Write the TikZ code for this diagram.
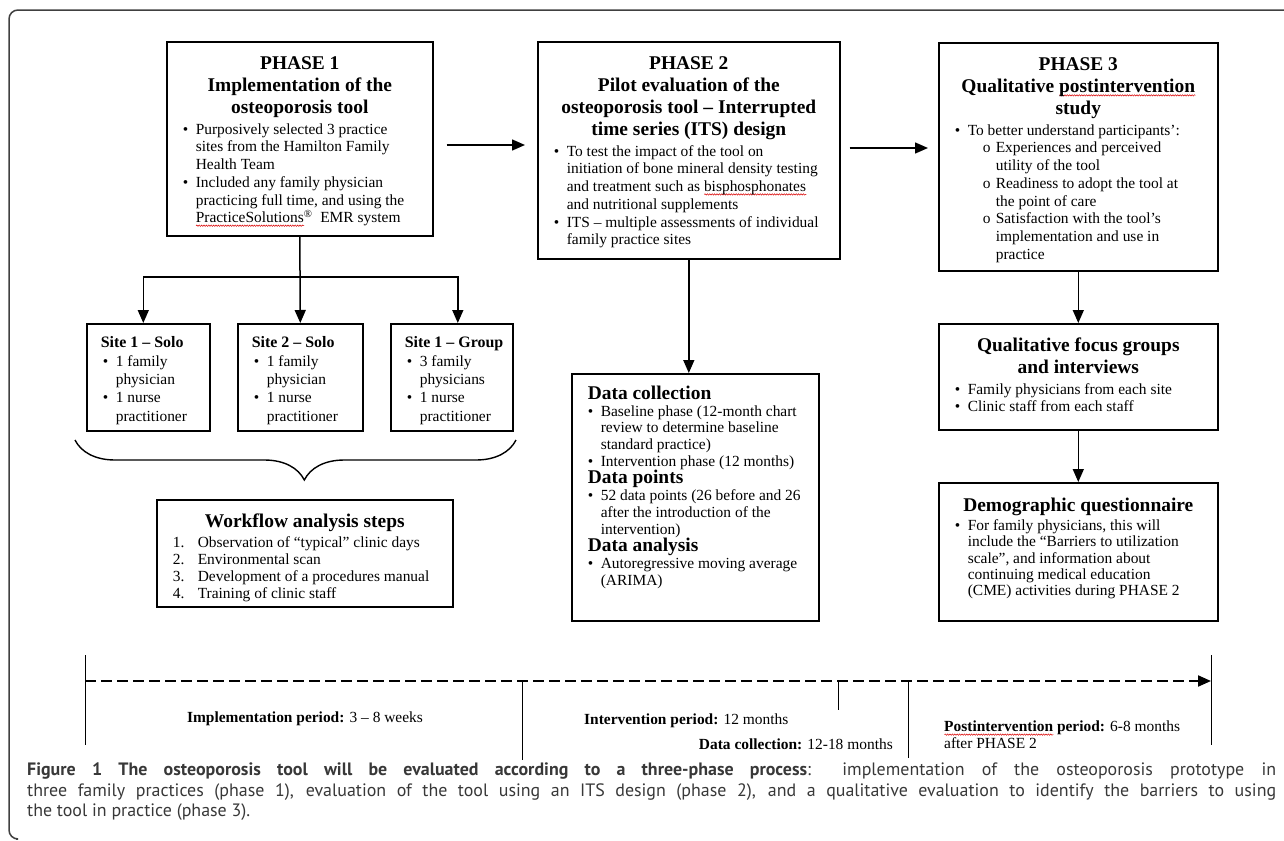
\documentclass[tikz,border=0pt]{standalone}
\usepackage{fontspec}
\setmainfont{Liberation Serif}
\newfontfamily\capfont{PT Sans}
\usetikzlibrary{arrows.meta,decorations.pathreplacing,decorations.pathmorphing}
\definecolor{capgray}{HTML}{383838}
\definecolor{framegray}{HTML}{404040}
\tikzset{>={Triangle[length=13bp,width=11bp]}}
\tikzset{
  panel/.style={draw, line width=1.6bp, anchor=north west, inner xsep=7bp, inner ysep=0pt},
  link/.style={->, line width=1.5bp},
  period/.style={line width=1bp},
  plabel/.style={font=\fontsize{15.5}{17}\selectfont, inner sep=0pt},
}
% box contents
\newcommand{\pbody}[4][13]{\parbox[c][#3bp][t]{#2bp}{\raggedright\fontsize{15.5}{17.8}\selectfont\vspace*{#1bp}#4\par}}
\newcommand{\ptitle}[1]{{\centering\fontsize{19.5}{22}\selectfont\bfseries #1\par}\vspace{3bp}}
\newcommand{\phead}[1]{\par\noindent\hspace*{9bp}{\fontsize{19.5}{20}\selectfont\bfseries #1}\par}
\newcommand{\shead}[1]{\par\noindent\hspace*{7bp}{\fontsize{16}{18}\selectfont\bfseries #1}\par}
\newcommand{\bul}{\par\noindent\hangindent=22bp\hangafter=1\hspace*{9bp}\makebox[13bp][l]{\textbullet}}
\newcommand{\subbul}{\par\noindent\hangindent=50bp\hangafter=1\hspace*{37bp}\makebox[13bp][l]{o}}
\newcommand{\stepno}[1]{\par\noindent\hangindent=34bp\hangafter=1\hspace*{9bp}\makebox[25bp][l]{#1.}}
% spell-check squiggle
\newlength{\spellwd}
\newcommand{\spell}[1]{\settowidth{\spellwd}{#1}\rlap{\tikz[baseline=0pt]\draw[red!85!black, line width=0.5bp, decorate, decoration={snake, amplitude=0.7bp, segment length=2.4bp}] (0pt,-2.8bp) -- (\spellwd,-2.8bp);}#1}

\begin{document}
\begin{tikzpicture}[x=1bp, y=-1bp]
  \useasboundingbox (0,0) rectangle (1284,841);
  % frame
  \draw[framegray, line width=1.5bp, rounded corners=9bp] (1284,10) -- (9,10) -- (9,839) -- (16,839);
  % phases
  \node[panel] (ph1) at (166,41) {\pbody[15]{252}{194}{%
    \ptitle{PHASE 1\\Implementation of the\\osteoporosis tool}
    \bul Purposively selected 3 practice\newline sites from the Hamilton Family\newline Health Team
    \bul Included any family physician\newline practicing full time, and using the\newline \spell{PracticeSolutions}\textsuperscript{®}\ \ EMR system}};
  \node[panel] (ph2) at (537,41) {\pbody[15]{288}{217}{%
    \ptitle{PHASE 2\\Pilot evaluation of the\\osteoporosis tool -- Interrupted\\time series (ITS) design}
    \bul To test the impact of the tool on\newline initiation of bone mineral density testing\newline and treatment such as \spell{bisphosphonates}\newline and nutritional supplements
    \bul ITS -- multiple assessments of individual\newline family practice sites}};
  \node[panel] (ph3) at (938,42) {\pbody[15]{265}{228}{%
    \ptitle{PHASE 3\\Qualitative \spell{postintervention}\\study}
    \bul To better understand participants':
    \subbul Experiences and perceived\newline utility of the tool
    \subbul Readiness to adopt the tool at\newline the point of care
    \subbul Satisfaction with the tool's\newline implementation and use in\newline practice}};
  % sites
  \node[panel] (site1) at (86,323) {\pbody{109}{107}{\baselineskip=18.3bp
    \shead{Site 1 -- Solo}
    \bul 1 family\newline physician
    \bul 1 nurse\newline practitioner}};
  \node[panel] (site2) at (237,323) {\pbody{111}{107}{\baselineskip=18.3bp
    \shead{Site 2 -- Solo}
    \bul 1 family\newline physician
    \bul 1 nurse\newline practitioner}};
  \node[panel] (site3) at (390,323) {\pbody{108}{107}{\baselineskip=18.3bp
    \shead{Site 1 -- Group}
    \bul 3 family\newline physicians
    \bul 1 nurse\newline practitioner}};
  \node[panel] (work) at (156,499) {\pbody[14]{282}{107}{%
    \ptitle{Workflow analysis steps}\baselineskip=17bp
    \stepno{1}Observation of ``typical'' clinic days
    \stepno{2}Environmental scan
    \stepno{3}Development of a procedures manual
    \stepno{4}Training of clinic staff}};
  % phase 2 details
  \node[panel] (datac) at (571,373) {\pbody[12]{233}{247}{\fontsize{15.5}{16.8}\selectfont
    \phead{Data collection}
    \bul Baseline phase (12-month chart\newline review to determine baseline\newline standard practice)
    \bul Intervention phase (12 months)
    \phead{Data points}
    \bul 52 data points (26 before and 26\newline after the introduction of the\newline intervention)
    \phead{Data analysis}
    \bul Autoregressive moving average\newline (ARIMA)}};
  % phase 3 details
  \node[panel] (qual) at (938,323) {\pbody[14]{265}{106}{%
    \ptitle{Qualitative focus groups\\and interviews}
    \bul Family physicians from each site
    \bul Clinic staff from each staff}};
  \node[panel] (demo) at (938,482) {\pbody[15]{265}{138}{%
    \ptitle{Demographic questionnaire}\baselineskip=16.3bp
    \bul For family physicians, this will\newline include the ``Barriers to utilization\newline scale'', and information about\newline continuing medical education\newline (CME) activities during PHASE 2}};
  % connectors
  \coordinate (row12) at (0,145);
  \coordinate (row23) at (0,148);
  \coordinate (fork) at (299,277);
  \draw[link, shorten <=13bp, shorten >=12bp] (ph1.east |- row12) -- (ph2.west |- row12);
  \draw[link, shorten <=9bp, shorten >=10bp] (ph2.east |- row23) -- (ph3.west |- row23);
  \draw[link] (ph1.south) -- (site2.north);
  \draw[link] (fork) -| ([xshift=-5bp]site1.north);
  \draw[link] (fork) -| ([xshift=6bp]site3.north);
  \draw[link] (ph2.south) -- (ph2.south |- datac.north);
  \draw[link] (ph3.south) -- (qual.north);
  \draw[link] (qual.south) -- (demo.north);
  % brace
  \draw[line width=1.4bp, decorate, decoration={brace, amplitude=40bp, aspect=0.48}] (516,440) -- (75,440);
  % timeline
  \coordinate (tstart) at (85,681);
  \coordinate (tend) at (1211,681);
  \draw[->, line width=2bp, dash pattern=on 11bp off 5bp] (tstart) -- (tend);
  \foreach \x/\a/\b in {85/655/745, 522/681/760, 838/681/710, 908/681/758, 1211/655/745}
    \draw[period] (\x,\a) -- (\x,\b);
  \node[plabel] (impl) at (305,719) {\textbf{Implementation period:} 3 -- 8 weeks};
  \node[plabel, anchor=west] (interv) at (584,721) {\textbf{Intervention period:} 12 months};
  \node[plabel, anchor=east] (collect) at (893,744) {\textbf{Data collection:} 12-18 months};
  \node[plabel, anchor=west, align=left] (post) at (944,735) {\textbf{\spell{Postintervention} period:} 6-8 months\\after PHASE 2};
  % caption
  \node[anchor=north west, inner sep=0pt, text width=1249bp, align=justify, text=capgray,
        font=\capfont\fontsize{18}{20.5}\selectfont] (cap) at (27,763)
    {{\spaceskip=.28em plus .12em\relax\textbf{Figure 1 The osteoporosis tool will be evaluated according to a three-phase process}}: implementation of the osteoporosis prototype in\linebreak three family practices (phase 1), evaluation of the tool using an ITS design (phase 2), and a qualitative evaluation to identify the barriers to using\linebreak the tool in practice (phase 3).};
\end{tikzpicture}
\end{document}
